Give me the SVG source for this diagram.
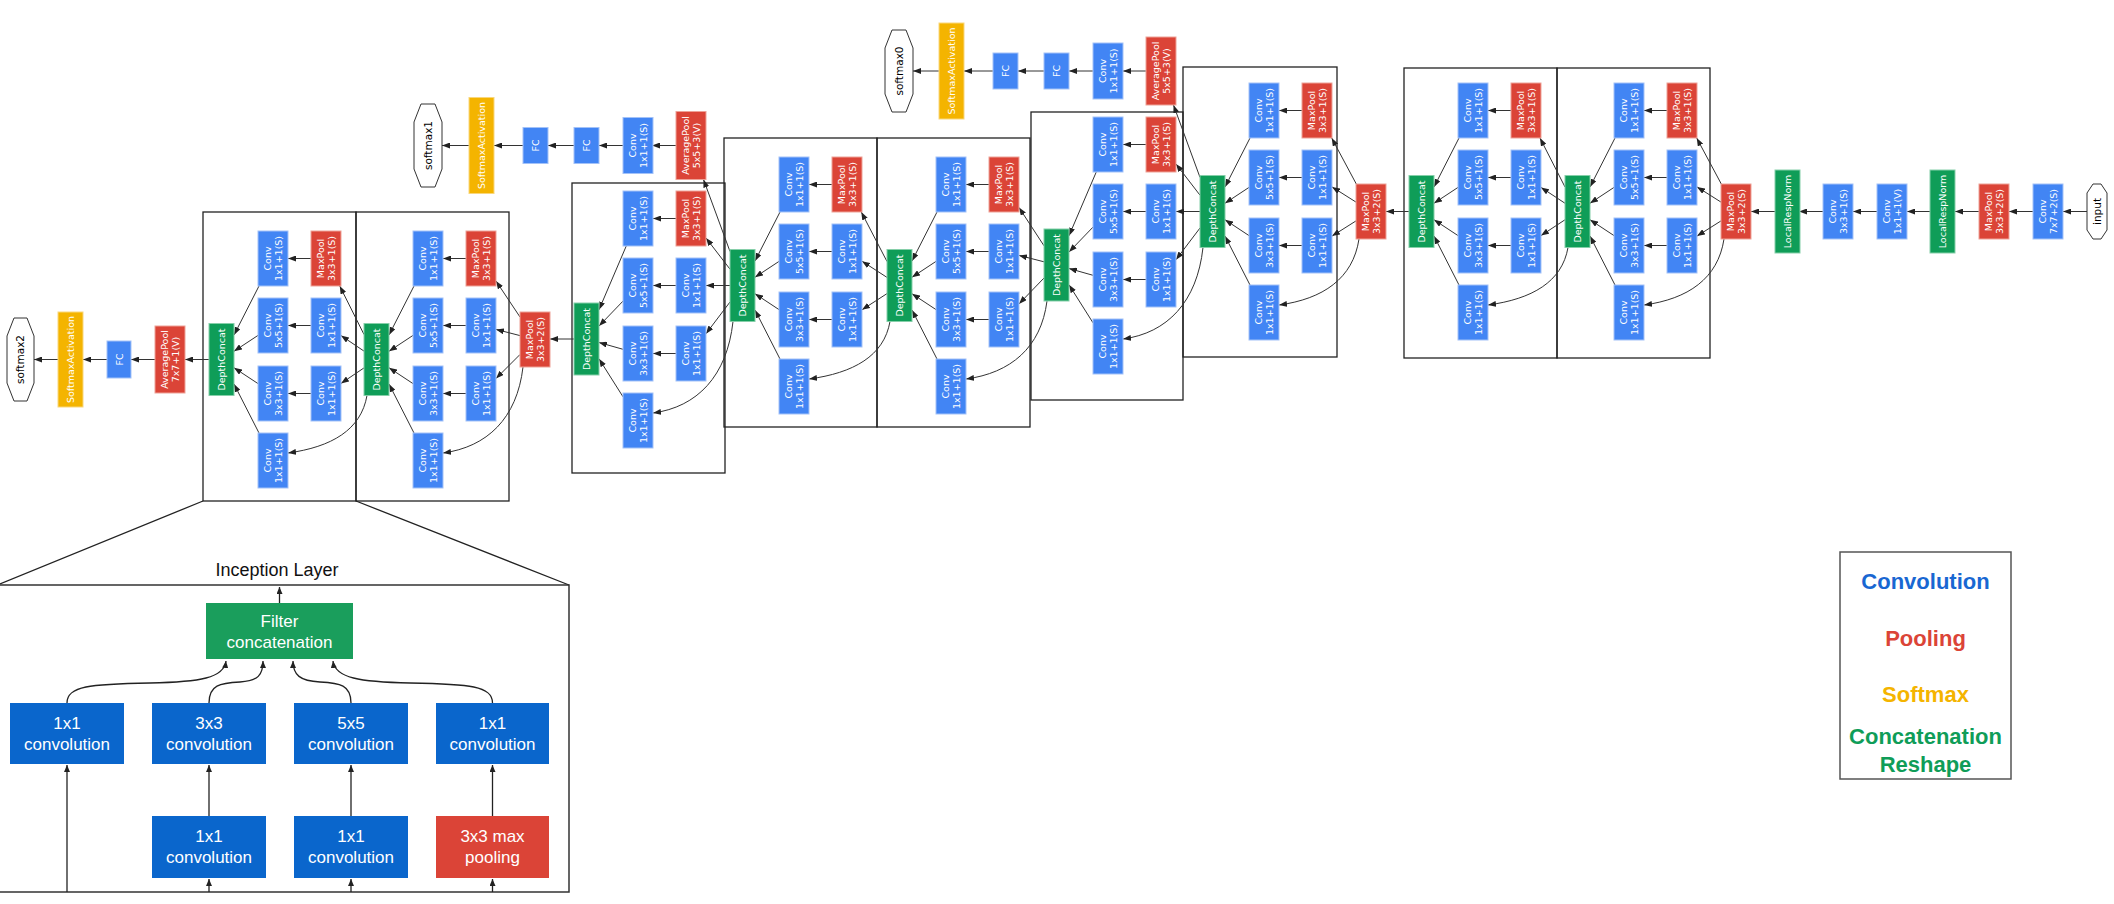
<svg xmlns="http://www.w3.org/2000/svg" width="2114" height="904" viewBox="0 0 2114 904">
<defs>
<marker id="ah" markerUnits="userSpaceOnUse" markerWidth="8" markerHeight="6" refX="8" refY="3" orient="auto"><path d="M0,0 L8,3 L0,6 z" fill="#222"/></marker>
<marker id="ah2" markerUnits="userSpaceOnUse" markerWidth="7" markerHeight="6" refX="7" refY="3" orient="auto"><path d="M0,0 L7,3 L0,6 z" fill="#222"/></marker>
<style>
.b{fill:#4285f4;stroke:#a3c2f8;stroke-width:1}
.r{fill:#db4437;stroke:#eea298;stroke-width:1}
.g{fill:#0f9d58;stroke:#86cfa9;stroke-width:1}
.y{fill:#f4b400;stroke:#f9d77c;stroke-width:1}
.t{font-family:"DejaVu Sans",sans-serif;font-size:9.5px;fill:#fff;text-anchor:middle}
.o{fill:#fff;stroke:#333;stroke-width:1}
.ot{font-family:"DejaVu Sans",sans-serif;font-size:10.5px;fill:#000;text-anchor:middle}
.e{fill:none;stroke:#333;stroke-width:1;marker-end:url(#ah)}
.ie{fill:none;stroke:#222;stroke-width:1.3;marker-end:url(#ah2)}
.box{fill:none;stroke:#222;stroke-width:1.3}
.ib{fill:#0a66cc}
.ir{fill:#db4437}
.ig{fill:#1a9e5c}
.it{font-family:"Liberation Sans",Arial,sans-serif;font-size:17px;fill:#fff;text-anchor:middle}
.lt{font-family:"Liberation Sans",Arial,sans-serif;font-size:22px;font-weight:bold;text-anchor:middle}
</style>
</defs>
<rect width="2114" height="904" fill="#fff"/>

<g id="module-boxes">
<rect class="box" x="1557" y="68" width="153" height="290"/>
<rect class="box" x="1404" y="68" width="153" height="290"/>
<rect class="box" x="1183" y="67" width="154" height="290"/>
<rect class="box" x="1031" y="112" width="152" height="288"/>
<rect class="box" x="877" y="138" width="153" height="289"/>
<rect class="box" x="724" y="138" width="153" height="289"/>
<rect class="box" x="572" y="183" width="153" height="290"/>
<rect class="box" x="356" y="212" width="153" height="289"/>
<rect class="box" x="203" y="212" width="153" height="289"/>
</g>

<g id="connectors">
<path class="e" d="M2087 211.5 H2063"/>
<path class="e" d="M2033 211.5 H2009"/>
<path class="e" d="M1979 211.5 H1955"/>
<path class="e" d="M1930 211.5 H1907"/>
<path class="e" d="M1877 211.5 H1853"/>
<path class="e" d="M1823 211.5 H1799"/>
<path class="e" d="M1775 211.5 H1751"/>
<path class="e" d="M1721.3 184 L1696.7 138"/>
<path class="e" d="M1721 202.1 L1697 186.9"/>
<path class="e" d="M1721 220.9 L1697 236.1"/>
<path class="e" d="M1724 239 C1718 278.6 1688 299 1644 305"/>
<path class="e" d="M1667 110.5 H1644"/>
<path class="e" d="M1667 177.5 H1644"/>
<path class="e" d="M1667 245.5 H1644"/>
<path class="e" d="M1615 138 L1590 187"/>
<path class="e" d="M1614 187.4 L1590 203.25"/>
<path class="e" d="M1614 235.6 L1590 219.75"/>
<path class="e" d="M1615 285 L1590 236"/>
<path class="e" d="M1565 187 L1540 138"/>
<path class="e" d="M1565 203.25 L1541 187.4"/>
<path class="e" d="M1565 219.75 L1541 235.6"/>
<path class="e" d="M1568 247.5 C1562 282 1532 299 1488 305"/>
<path class="e" d="M1511 110.5 H1488"/>
<path class="e" d="M1511 177.5 H1488"/>
<path class="e" d="M1511 245.5 H1488"/>
<path class="e" d="M1459 138 L1434 187"/>
<path class="e" d="M1458 187.4 L1434 203.25"/>
<path class="e" d="M1458 235.6 L1434 219.75"/>
<path class="e" d="M1459 285 L1434 236"/>
<path class="e" d="M1409 211.5 H1386"/>
<path class="e" d="M1356.3 184 L1331.7 138"/>
<path class="e" d="M1356 202.1 L1332 186.9"/>
<path class="e" d="M1356 220.9 L1332 236.1"/>
<path class="e" d="M1359 239 C1353 278.6 1323 299 1279 305"/>
<path class="e" d="M1302 110.5 H1279"/>
<path class="e" d="M1302 177.5 H1279"/>
<path class="e" d="M1302 245.5 H1279"/>
<path class="e" d="M1250 138 L1225 187"/>
<path class="e" d="M1249 187.4 L1225 203.25"/>
<path class="e" d="M1249 235.6 L1225 219.75"/>
<path class="e" d="M1250 285 L1225 236"/>
<path class="e" d="M1200 177.4 L1173.5 105"/>
<path class="e" d="M1146 71 H1123"/>
<path class="e" d="M1093 71 H1069"/>
<path class="e" d="M1044 71 H1018"/>
<path class="e" d="M993 71 H964"/>
<path class="e" d="M939 71 H913"/>
<path class="e" d="M1200 195.2 L1176 164"/>
<path class="e" d="M1200 211.5 H1176"/>
<path class="e" d="M1200 228 L1176 259.7"/>
<path class="e" d="M1203 247.5 C1197 302.4 1167 333 1123 339"/>
<path class="e" d="M1146 144.5 H1123"/>
<path class="e" d="M1146 211.5 H1123"/>
<path class="e" d="M1146 279.5 H1123"/>
<path class="e" d="M1096.25 172 L1069 235.75"/>
<path class="e" d="M1093 227.1 L1069 252"/>
<path class="e" d="M1093 275.3 L1069 268.5"/>
<path class="e" d="M1093 322.8 L1069 284.8"/>
<path class="e" d="M1044 245.8 L1019 207.5"/>
<path class="e" d="M1044 261.8 L1019 255.4"/>
<path class="e" d="M1044 278 L1019 303.9"/>
<path class="e" d="M1047 301 C1041 347.8 1010.5 373 966 379"/>
<path class="e" d="M989 184.5 H966"/>
<path class="e" d="M989 251.5 H966"/>
<path class="e" d="M989 319.5 H966"/>
<path class="e" d="M937 212 L912 261"/>
<path class="e" d="M936 261.4 L912 277.25"/>
<path class="e" d="M936 309.6 L912 293.75"/>
<path class="e" d="M937 359 L912 310"/>
<path class="e" d="M887 261.5 L861.3 212"/>
<path class="e" d="M887 277.4 L862 261.2"/>
<path class="e" d="M887 293.6 L862 309.8"/>
<path class="e" d="M890 321.5 C884 356 853.5 373 809 379"/>
<path class="e" d="M832 184.5 H809"/>
<path class="e" d="M832 251.5 H809"/>
<path class="e" d="M832 319.5 H809"/>
<path class="e" d="M780 212 L755 261"/>
<path class="e" d="M779 261.4 L755 277.25"/>
<path class="e" d="M779 309.6 L755 293.75"/>
<path class="e" d="M780 359 L755 310"/>
<path class="e" d="M730 251.5 L703.5 179.5"/>
<path class="e" d="M676 145.5 H652"/>
<path class="e" d="M623 145.5 H599"/>
<path class="e" d="M574 145.5 H548"/>
<path class="e" d="M523 145.5 H494"/>
<path class="e" d="M469 145.5 H442"/>
<path class="e" d="M730 269.2 L706 238"/>
<path class="e" d="M730 285.5 H706"/>
<path class="e" d="M730 302 L706 333.7"/>
<path class="e" d="M733 321.5 C727 376.4 697 407 653 413"/>
<path class="e" d="M676 218.5 H653"/>
<path class="e" d="M676 285.5 H653"/>
<path class="e" d="M676 353.5 H653"/>
<path class="e" d="M626.25 246 L599 309.75"/>
<path class="e" d="M623 301.1 L599 326"/>
<path class="e" d="M623 349.3 L599 342.5"/>
<path class="e" d="M623 396.8 L599 358.8"/>
<path class="e" d="M574 339 H550"/>
<path class="e" d="M520 317 L496 281"/>
<path class="e" d="M520 335.6 L496 329.4"/>
<path class="e" d="M520 354.5 L496 378.5"/>
<path class="e" d="M523 367 C517 418.6 487 447 443 453"/>
<path class="e" d="M466 258.5 H443"/>
<path class="e" d="M466 325.5 H443"/>
<path class="e" d="M466 393.5 H443"/>
<path class="e" d="M414 286 L389 335"/>
<path class="e" d="M413 335.4 L389 351.25"/>
<path class="e" d="M413 383.6 L389 367.75"/>
<path class="e" d="M414 433 L389 384"/>
<path class="e" d="M364 334.5 L339.75 286"/>
<path class="e" d="M364 351.1 L341 335.6"/>
<path class="e" d="M364 367.9 L341 383.4"/>
<path class="e" d="M367 395.5 C361 430 331.5 447 288 453"/>
<path class="e" d="M311 258.5 H288"/>
<path class="e" d="M311 325.5 H288"/>
<path class="e" d="M311 393.5 H288"/>
<path class="e" d="M259 286 L234 335"/>
<path class="e" d="M258 335.4 L234 351.25"/>
<path class="e" d="M258 383.6 L234 367.75"/>
<path class="e" d="M259 433 L234 384"/>
<path class="e" d="M209 359.5 H185"/>
<path class="e" d="M155 359.5 H131"/>
<path class="e" d="M107 359.5 H83"/>
<path class="e" d="M58 359.5 H34"/>
</g>

<g id="stem">
<g id="input"><polygon class="o" points="2093,184 2101,184 2107,193 2107,230 2101,239 2093,239 2087,230 2087,193"/><text class="ot" font-size="9.5" transform="translate(2097 211.5) rotate(-90)" y="3.5">input</text></g>
<g id="conv1"><rect class="b" x="2033" y="184" width="30" height="55"/><text class="t" transform="translate(2048 211.5) rotate(-90)"><tspan x="0" y="-2.5">Conv</tspan><tspan x="0" y="9">7x7+2(S)</tspan></text></g>
<g id="pool1"><rect class="r" x="1979" y="184" width="30" height="55"/><text class="t" transform="translate(1994 211.5) rotate(-90)"><tspan x="0" y="-2.5">MaxPool</tspan><tspan x="0" y="9">3x3+2(S)</tspan></text></g>
<g id="lrn1"><rect class="g" x="1930" y="170" width="25" height="83"/><text class="t" transform="translate(1942.5 211.5) rotate(-90)" y="3.5">LocalRespNorm</text></g>
<g id="conv2r"><rect class="b" x="1877" y="184" width="30" height="55"/><text class="t" transform="translate(1892 211.5) rotate(-90)"><tspan x="0" y="-2.5">Conv</tspan><tspan x="0" y="9">1x1+1(V)</tspan></text></g>
<g id="conv2"><rect class="b" x="1823" y="184" width="30" height="55"/><text class="t" transform="translate(1838 211.5) rotate(-90)"><tspan x="0" y="-2.5">Conv</tspan><tspan x="0" y="9">3x3+1(S)</tspan></text></g>
<g id="lrn2"><rect class="g" x="1775" y="170" width="25" height="83"/><text class="t" transform="translate(1787.5 211.5) rotate(-90)" y="3.5">LocalRespNorm</text></g>
<g id="pool2"><rect class="r" x="1721" y="184" width="30" height="55"/><text class="t" transform="translate(1736 211.5) rotate(-90)"><tspan x="0" y="-2.5">MaxPool</tspan><tspan x="0" y="9">3x3+2(S)</tspan></text></g>
</g>

<g id="inc3a">
<g id="i3a_dc"><rect class="g" x="1565" y="175.5" width="25" height="72"/><text class="t" transform="translate(1577.5 211.5) rotate(-90)" y="3.5">DepthConcat</text></g>
<g id="i3a_c1"><rect class="b" x="1614" y="83" width="30" height="55"/><text class="t" transform="translate(1629 110.5) rotate(-90)"><tspan x="0" y="-2.5">Conv</tspan><tspan x="0" y="9">1x1+1(S)</tspan></text></g>
<g id="i3a_c5"><rect class="b" x="1614" y="150" width="30" height="55"/><text class="t" transform="translate(1629 177.5) rotate(-90)"><tspan x="0" y="-2.5">Conv</tspan><tspan x="0" y="9">5x5+1(S)</tspan></text></g>
<g id="i3a_c3"><rect class="b" x="1614" y="218" width="30" height="55"/><text class="t" transform="translate(1629 245.5) rotate(-90)"><tspan x="0" y="-2.5">Conv</tspan><tspan x="0" y="9">3x3+1(S)</tspan></text></g>
<g id="i3a_c4"><rect class="b" x="1614" y="285" width="30" height="55"/><text class="t" transform="translate(1629 312.5) rotate(-90)"><tspan x="0" y="-2.5">Conv</tspan><tspan x="0" y="9">1x1+1(S)</tspan></text></g>
<g id="i3a_p"><rect class="r" x="1667" y="83" width="30" height="55"/><text class="t" transform="translate(1682 110.5) rotate(-90)"><tspan x="0" y="-2.5">MaxPool</tspan><tspan x="0" y="9">3x3+1(S)</tspan></text></g>
<g id="i3a_a"><rect class="b" x="1667" y="150" width="30" height="55"/><text class="t" transform="translate(1682 177.5) rotate(-90)"><tspan x="0" y="-2.5">Conv</tspan><tspan x="0" y="9">1x1+1(S)</tspan></text></g>
<g id="i3a_b"><rect class="b" x="1667" y="218" width="30" height="55"/><text class="t" transform="translate(1682 245.5) rotate(-90)"><tspan x="0" y="-2.5">Conv</tspan><tspan x="0" y="9">1x1+1(S)</tspan></text></g>
</g>

<g id="inc3b">
<g id="i3b_dc"><rect class="g" x="1409" y="175.5" width="25" height="72"/><text class="t" transform="translate(1421.5 211.5) rotate(-90)" y="3.5">DepthConcat</text></g>
<g id="i3b_c1"><rect class="b" x="1458" y="83" width="30" height="55"/><text class="t" transform="translate(1473 110.5) rotate(-90)"><tspan x="0" y="-2.5">Conv</tspan><tspan x="0" y="9">1x1+1(S)</tspan></text></g>
<g id="i3b_c5"><rect class="b" x="1458" y="150" width="30" height="55"/><text class="t" transform="translate(1473 177.5) rotate(-90)"><tspan x="0" y="-2.5">Conv</tspan><tspan x="0" y="9">5x5+1(S)</tspan></text></g>
<g id="i3b_c3"><rect class="b" x="1458" y="218" width="30" height="55"/><text class="t" transform="translate(1473 245.5) rotate(-90)"><tspan x="0" y="-2.5">Conv</tspan><tspan x="0" y="9">3x3+1(S)</tspan></text></g>
<g id="i3b_c4"><rect class="b" x="1458" y="285" width="30" height="55"/><text class="t" transform="translate(1473 312.5) rotate(-90)"><tspan x="0" y="-2.5">Conv</tspan><tspan x="0" y="9">1x1+1(S)</tspan></text></g>
<g id="i3b_p"><rect class="r" x="1511" y="83" width="30" height="55"/><text class="t" transform="translate(1526 110.5) rotate(-90)"><tspan x="0" y="-2.5">MaxPool</tspan><tspan x="0" y="9">3x3+1(S)</tspan></text></g>
<g id="i3b_a"><rect class="b" x="1511" y="150" width="30" height="55"/><text class="t" transform="translate(1526 177.5) rotate(-90)"><tspan x="0" y="-2.5">Conv</tspan><tspan x="0" y="9">1x1+1(S)</tspan></text></g>
<g id="i3b_b"><rect class="b" x="1511" y="218" width="30" height="55"/><text class="t" transform="translate(1526 245.5) rotate(-90)"><tspan x="0" y="-2.5">Conv</tspan><tspan x="0" y="9">1x1+1(S)</tspan></text></g>
</g>

<g id="pool3"><rect class="r" x="1356" y="184" width="30" height="55"/><text class="t" transform="translate(1371 211.5) rotate(-90)"><tspan x="0" y="-2.5">MaxPool</tspan><tspan x="0" y="9">3x3+2(S)</tspan></text></g>

<g id="inc4a">
<g id="i4a_dc"><rect class="g" x="1200" y="175.5" width="25" height="72"/><text class="t" transform="translate(1212.5 211.5) rotate(-90)" y="3.5">DepthConcat</text></g>
<g id="i4a_c1"><rect class="b" x="1249" y="83" width="30" height="55"/><text class="t" transform="translate(1264 110.5) rotate(-90)"><tspan x="0" y="-2.5">Conv</tspan><tspan x="0" y="9">1x1+1(S)</tspan></text></g>
<g id="i4a_c5"><rect class="b" x="1249" y="150" width="30" height="55"/><text class="t" transform="translate(1264 177.5) rotate(-90)"><tspan x="0" y="-2.5">Conv</tspan><tspan x="0" y="9">5x5+1(S)</tspan></text></g>
<g id="i4a_c3"><rect class="b" x="1249" y="218" width="30" height="55"/><text class="t" transform="translate(1264 245.5) rotate(-90)"><tspan x="0" y="-2.5">Conv</tspan><tspan x="0" y="9">3x3+1(S)</tspan></text></g>
<g id="i4a_c4"><rect class="b" x="1249" y="285" width="30" height="55"/><text class="t" transform="translate(1264 312.5) rotate(-90)"><tspan x="0" y="-2.5">Conv</tspan><tspan x="0" y="9">1x1+1(S)</tspan></text></g>
<g id="i4a_p"><rect class="r" x="1302" y="83" width="30" height="55"/><text class="t" transform="translate(1317 110.5) rotate(-90)"><tspan x="0" y="-2.5">MaxPool</tspan><tspan x="0" y="9">3x3+1(S)</tspan></text></g>
<g id="i4a_a"><rect class="b" x="1302" y="150" width="30" height="55"/><text class="t" transform="translate(1317 177.5) rotate(-90)"><tspan x="0" y="-2.5">Conv</tspan><tspan x="0" y="9">1x1+1(S)</tspan></text></g>
<g id="i4a_b"><rect class="b" x="1302" y="218" width="30" height="55"/><text class="t" transform="translate(1317 245.5) rotate(-90)"><tspan x="0" y="-2.5">Conv</tspan><tspan x="0" y="9">1x1+1(S)</tspan></text></g>
</g>

<g id="aux0">
<g id="a0_pool"><rect class="r" x="1146" y="37" width="30" height="68"/><text class="t" transform="translate(1161 71) rotate(-90)"><tspan x="0" y="-2.5">AveragePool</tspan><tspan x="0" y="9">5x5+3(V)</tspan></text></g>
<g id="a0_conv"><rect class="b" x="1093" y="43" width="30" height="56"/><text class="t" transform="translate(1108 71) rotate(-90)"><tspan x="0" y="-2.5">Conv</tspan><tspan x="0" y="9">1x1+1(S)</tspan></text></g>
<g id="a0_fc1"><rect class="b" x="1044" y="53" width="25" height="36"/><text class="t" transform="translate(1056.5 71) rotate(-90)" y="3.5">FC</text></g>
<g id="a0_fc2"><rect class="b" x="993" y="53" width="25" height="36"/><text class="t" transform="translate(1005.5 71) rotate(-90)" y="3.5">FC</text></g>
<g id="a0_sm"><rect class="y" x="939" y="23" width="25" height="96"/><text class="t" transform="translate(951.5 71) rotate(-90)" y="3.5">SoftmaxActivation</text></g>
<g id="softmax0"><polygon class="o" points="892,30 906,30 913,48 913,94 906,112 892,112 885,94 885,48"/><text class="ot" transform="translate(899 71) rotate(-90)" y="3.8">softmax0</text></g>
</g>

<g id="inc4b">
<g id="i4b_dc"><rect class="g" x="1044" y="229" width="25" height="72"/><text class="t" transform="translate(1056.5 265) rotate(-90)" y="3.5">DepthConcat</text></g>
<g id="i4b_c1"><rect class="b" x="1093" y="117" width="30" height="55"/><text class="t" transform="translate(1108 144.5) rotate(-90)"><tspan x="0" y="-2.5">Conv</tspan><tspan x="0" y="9">1x1+1(S)</tspan></text></g>
<g id="i4b_c5"><rect class="b" x="1093" y="184" width="30" height="55"/><text class="t" transform="translate(1108 211.5) rotate(-90)"><tspan x="0" y="-2.5">Conv</tspan><tspan x="0" y="9">5x5+1(S)</tspan></text></g>
<g id="i4b_c3"><rect class="b" x="1093" y="252" width="30" height="55"/><text class="t" transform="translate(1108 279.5) rotate(-90)"><tspan x="0" y="-2.5">Conv</tspan><tspan x="0" y="9">3x3+1(S)</tspan></text></g>
<g id="i4b_c4"><rect class="b" x="1093" y="319" width="30" height="55"/><text class="t" transform="translate(1108 346.5) rotate(-90)"><tspan x="0" y="-2.5">Conv</tspan><tspan x="0" y="9">1x1+1(S)</tspan></text></g>
<g id="i4b_p"><rect class="r" x="1146" y="117" width="30" height="55"/><text class="t" transform="translate(1161 144.5) rotate(-90)"><tspan x="0" y="-2.5">MaxPool</tspan><tspan x="0" y="9">3x3+1(S)</tspan></text></g>
<g id="i4b_a"><rect class="b" x="1146" y="184" width="30" height="55"/><text class="t" transform="translate(1161 211.5) rotate(-90)"><tspan x="0" y="-2.5">Conv</tspan><tspan x="0" y="9">1x1+1(S)</tspan></text></g>
<g id="i4b_b"><rect class="b" x="1146" y="252" width="30" height="55"/><text class="t" transform="translate(1161 279.5) rotate(-90)"><tspan x="0" y="-2.5">Conv</tspan><tspan x="0" y="9">1x1+1(S)</tspan></text></g>
</g>

<g id="inc4c">
<g id="i4c_dc"><rect class="g" x="887" y="249.5" width="25" height="72"/><text class="t" transform="translate(899.5 285.5) rotate(-90)" y="3.5">DepthConcat</text></g>
<g id="i4c_c1"><rect class="b" x="936" y="157" width="30" height="55"/><text class="t" transform="translate(951 184.5) rotate(-90)"><tspan x="0" y="-2.5">Conv</tspan><tspan x="0" y="9">1x1+1(S)</tspan></text></g>
<g id="i4c_c5"><rect class="b" x="936" y="224" width="30" height="55"/><text class="t" transform="translate(951 251.5) rotate(-90)"><tspan x="0" y="-2.5">Conv</tspan><tspan x="0" y="9">5x5+1(S)</tspan></text></g>
<g id="i4c_c3"><rect class="b" x="936" y="292" width="30" height="55"/><text class="t" transform="translate(951 319.5) rotate(-90)"><tspan x="0" y="-2.5">Conv</tspan><tspan x="0" y="9">3x3+1(S)</tspan></text></g>
<g id="i4c_c4"><rect class="b" x="936" y="359" width="30" height="55"/><text class="t" transform="translate(951 386.5) rotate(-90)"><tspan x="0" y="-2.5">Conv</tspan><tspan x="0" y="9">1x1+1(S)</tspan></text></g>
<g id="i4c_p"><rect class="r" x="989" y="157" width="30" height="55"/><text class="t" transform="translate(1004 184.5) rotate(-90)"><tspan x="0" y="-2.5">MaxPool</tspan><tspan x="0" y="9">3x3+1(S)</tspan></text></g>
<g id="i4c_a"><rect class="b" x="989" y="224" width="30" height="55"/><text class="t" transform="translate(1004 251.5) rotate(-90)"><tspan x="0" y="-2.5">Conv</tspan><tspan x="0" y="9">1x1+1(S)</tspan></text></g>
<g id="i4c_b"><rect class="b" x="989" y="292" width="30" height="55"/><text class="t" transform="translate(1004 319.5) rotate(-90)"><tspan x="0" y="-2.5">Conv</tspan><tspan x="0" y="9">1x1+1(S)</tspan></text></g>
</g>

<g id="inc4d">
<g id="i4d_dc"><rect class="g" x="730" y="249.5" width="25" height="72"/><text class="t" transform="translate(742.5 285.5) rotate(-90)" y="3.5">DepthConcat</text></g>
<g id="i4d_c1"><rect class="b" x="779" y="157" width="30" height="55"/><text class="t" transform="translate(794 184.5) rotate(-90)"><tspan x="0" y="-2.5">Conv</tspan><tspan x="0" y="9">1x1+1(S)</tspan></text></g>
<g id="i4d_c5"><rect class="b" x="779" y="224" width="30" height="55"/><text class="t" transform="translate(794 251.5) rotate(-90)"><tspan x="0" y="-2.5">Conv</tspan><tspan x="0" y="9">5x5+1(S)</tspan></text></g>
<g id="i4d_c3"><rect class="b" x="779" y="292" width="30" height="55"/><text class="t" transform="translate(794 319.5) rotate(-90)"><tspan x="0" y="-2.5">Conv</tspan><tspan x="0" y="9">3x3+1(S)</tspan></text></g>
<g id="i4d_c4"><rect class="b" x="779" y="359" width="30" height="55"/><text class="t" transform="translate(794 386.5) rotate(-90)"><tspan x="0" y="-2.5">Conv</tspan><tspan x="0" y="9">1x1+1(S)</tspan></text></g>
<g id="i4d_p"><rect class="r" x="832" y="157" width="30" height="55"/><text class="t" transform="translate(847 184.5) rotate(-90)"><tspan x="0" y="-2.5">MaxPool</tspan><tspan x="0" y="9">3x3+1(S)</tspan></text></g>
<g id="i4d_a"><rect class="b" x="832" y="224" width="30" height="55"/><text class="t" transform="translate(847 251.5) rotate(-90)"><tspan x="0" y="-2.5">Conv</tspan><tspan x="0" y="9">1x1+1(S)</tspan></text></g>
<g id="i4d_b"><rect class="b" x="832" y="292" width="30" height="55"/><text class="t" transform="translate(847 319.5) rotate(-90)"><tspan x="0" y="-2.5">Conv</tspan><tspan x="0" y="9">1x1+1(S)</tspan></text></g>
</g>

<g id="aux1">
<g id="a1_pool"><rect class="r" x="676" y="111.5" width="30" height="68"/><text class="t" transform="translate(691 145.5) rotate(-90)"><tspan x="0" y="-2.5">AveragePool</tspan><tspan x="0" y="9">5x5+3(V)</tspan></text></g>
<g id="a1_conv"><rect class="b" x="623" y="117.5" width="30" height="56"/><text class="t" transform="translate(638 145.5) rotate(-90)"><tspan x="0" y="-2.5">Conv</tspan><tspan x="0" y="9">1x1+1(S)</tspan></text></g>
<g id="a1_fc1"><rect class="b" x="574" y="127.5" width="25" height="36"/><text class="t" transform="translate(586.5 145.5) rotate(-90)" y="3.5">FC</text></g>
<g id="a1_fc2"><rect class="b" x="523" y="127.5" width="25" height="36"/><text class="t" transform="translate(535.5 145.5) rotate(-90)" y="3.5">FC</text></g>
<g id="a1_sm"><rect class="y" x="469" y="97.5" width="25" height="96"/><text class="t" transform="translate(481.5 145.5) rotate(-90)" y="3.5">SoftmaxActivation</text></g>
<g id="softmax1"><polygon class="o" points="421,104 435,104 442,122 442,169 435,187 421,187 414,169 414,122"/><text class="ot" transform="translate(428 145.5) rotate(-90)" y="3.8">softmax1</text></g>
</g>

<g id="inc4e">
<g id="i4e_dc"><rect class="g" x="574" y="303" width="25" height="72"/><text class="t" transform="translate(586.5 339) rotate(-90)" y="3.5">DepthConcat</text></g>
<g id="i4e_c1"><rect class="b" x="623" y="191" width="30" height="55"/><text class="t" transform="translate(638 218.5) rotate(-90)"><tspan x="0" y="-2.5">Conv</tspan><tspan x="0" y="9">1x1+1(S)</tspan></text></g>
<g id="i4e_c5"><rect class="b" x="623" y="258" width="30" height="55"/><text class="t" transform="translate(638 285.5) rotate(-90)"><tspan x="0" y="-2.5">Conv</tspan><tspan x="0" y="9">5x5+1(S)</tspan></text></g>
<g id="i4e_c3"><rect class="b" x="623" y="326" width="30" height="55"/><text class="t" transform="translate(638 353.5) rotate(-90)"><tspan x="0" y="-2.5">Conv</tspan><tspan x="0" y="9">3x3+1(S)</tspan></text></g>
<g id="i4e_c4"><rect class="b" x="623" y="393" width="30" height="55"/><text class="t" transform="translate(638 420.5) rotate(-90)"><tspan x="0" y="-2.5">Conv</tspan><tspan x="0" y="9">1x1+1(S)</tspan></text></g>
<g id="i4e_p"><rect class="r" x="676" y="191" width="30" height="55"/><text class="t" transform="translate(691 218.5) rotate(-90)"><tspan x="0" y="-2.5">MaxPool</tspan><tspan x="0" y="9">3x3+1(S)</tspan></text></g>
<g id="i4e_a"><rect class="b" x="676" y="258" width="30" height="55"/><text class="t" transform="translate(691 285.5) rotate(-90)"><tspan x="0" y="-2.5">Conv</tspan><tspan x="0" y="9">1x1+1(S)</tspan></text></g>
<g id="i4e_b"><rect class="b" x="676" y="326" width="30" height="55"/><text class="t" transform="translate(691 353.5) rotate(-90)"><tspan x="0" y="-2.5">Conv</tspan><tspan x="0" y="9">1x1+1(S)</tspan></text></g>
</g>

<g id="pool4"><rect class="r" x="520" y="312" width="30" height="55"/><text class="t" transform="translate(535 339.5) rotate(-90)"><tspan x="0" y="-2.5">MaxPool</tspan><tspan x="0" y="9">3x3+2(S)</tspan></text></g>

<g id="inc5a">
<g id="i5a_dc"><rect class="g" x="364" y="323.5" width="25" height="72"/><text class="t" transform="translate(376.5 359.5) rotate(-90)" y="3.5">DepthConcat</text></g>
<g id="i5a_c1"><rect class="b" x="413" y="231" width="30" height="55"/><text class="t" transform="translate(428 258.5) rotate(-90)"><tspan x="0" y="-2.5">Conv</tspan><tspan x="0" y="9">1x1+1(S)</tspan></text></g>
<g id="i5a_c5"><rect class="b" x="413" y="298" width="30" height="55"/><text class="t" transform="translate(428 325.5) rotate(-90)"><tspan x="0" y="-2.5">Conv</tspan><tspan x="0" y="9">5x5+1(S)</tspan></text></g>
<g id="i5a_c3"><rect class="b" x="413" y="366" width="30" height="55"/><text class="t" transform="translate(428 393.5) rotate(-90)"><tspan x="0" y="-2.5">Conv</tspan><tspan x="0" y="9">3x3+1(S)</tspan></text></g>
<g id="i5a_c4"><rect class="b" x="413" y="433" width="30" height="55"/><text class="t" transform="translate(428 460.5) rotate(-90)"><tspan x="0" y="-2.5">Conv</tspan><tspan x="0" y="9">1x1+1(S)</tspan></text></g>
<g id="i5a_p"><rect class="r" x="466" y="231" width="30" height="55"/><text class="t" transform="translate(481 258.5) rotate(-90)"><tspan x="0" y="-2.5">MaxPool</tspan><tspan x="0" y="9">3x3+1(S)</tspan></text></g>
<g id="i5a_a"><rect class="b" x="466" y="298" width="30" height="55"/><text class="t" transform="translate(481 325.5) rotate(-90)"><tspan x="0" y="-2.5">Conv</tspan><tspan x="0" y="9">1x1+1(S)</tspan></text></g>
<g id="i5a_b"><rect class="b" x="466" y="366" width="30" height="55"/><text class="t" transform="translate(481 393.5) rotate(-90)"><tspan x="0" y="-2.5">Conv</tspan><tspan x="0" y="9">1x1+1(S)</tspan></text></g>
</g>

<g id="inc5b">
<g id="i5b_dc"><rect class="g" x="209" y="323.5" width="25" height="72"/><text class="t" transform="translate(221.5 359.5) rotate(-90)" y="3.5">DepthConcat</text></g>
<g id="i5b_c1"><rect class="b" x="258" y="231" width="30" height="55"/><text class="t" transform="translate(273 258.5) rotate(-90)"><tspan x="0" y="-2.5">Conv</tspan><tspan x="0" y="9">1x1+1(S)</tspan></text></g>
<g id="i5b_c5"><rect class="b" x="258" y="298" width="30" height="55"/><text class="t" transform="translate(273 325.5) rotate(-90)"><tspan x="0" y="-2.5">Conv</tspan><tspan x="0" y="9">5x5+1(S)</tspan></text></g>
<g id="i5b_c3"><rect class="b" x="258" y="366" width="30" height="55"/><text class="t" transform="translate(273 393.5) rotate(-90)"><tspan x="0" y="-2.5">Conv</tspan><tspan x="0" y="9">3x3+1(S)</tspan></text></g>
<g id="i5b_c4"><rect class="b" x="258" y="433" width="30" height="55"/><text class="t" transform="translate(273 460.5) rotate(-90)"><tspan x="0" y="-2.5">Conv</tspan><tspan x="0" y="9">1x1+1(S)</tspan></text></g>
<g id="i5b_p"><rect class="r" x="311" y="231" width="30" height="55"/><text class="t" transform="translate(326 258.5) rotate(-90)"><tspan x="0" y="-2.5">MaxPool</tspan><tspan x="0" y="9">3x3+1(S)</tspan></text></g>
<g id="i5b_a"><rect class="b" x="311" y="298" width="30" height="55"/><text class="t" transform="translate(326 325.5) rotate(-90)"><tspan x="0" y="-2.5">Conv</tspan><tspan x="0" y="9">1x1+1(S)</tspan></text></g>
<g id="i5b_b"><rect class="b" x="311" y="366" width="30" height="55"/><text class="t" transform="translate(326 393.5) rotate(-90)"><tspan x="0" y="-2.5">Conv</tspan><tspan x="0" y="9">1x1+1(S)</tspan></text></g>
</g>

<g id="head">
<g id="h_pool"><rect class="r" x="155" y="326" width="30" height="67"/><text class="t" transform="translate(170 359.5) rotate(-90)"><tspan x="0" y="-2.5">AveragePool</tspan><tspan x="0" y="9">7x7+1(V)</tspan></text></g>
<g id="h_fc"><rect class="b" x="107" y="341" width="24" height="37"/><text class="t" transform="translate(119 359.5) rotate(-90)" y="3.5">FC</text></g>
<g id="h_sm"><rect class="y" x="58" y="312" width="25" height="95"/><text class="t" transform="translate(70.5 359.5) rotate(-90)" y="3.5">SoftmaxActivation</text></g>
<g id="softmax2"><polygon class="o" points="14,318 27,318 34,336 34,383 27,401 14,401 7,383 7,336"/><text class="ot" transform="translate(20.5 359.5) rotate(-90)" y="3.8">softmax2</text></g>
</g>

<g id="inset">
<path d="M203 501 L0 584 M356 501 L569 585" fill="none" stroke="#222" stroke-width="1.3"/>
<path d="M0 585 H569 V892 H0" fill="none" stroke="#333" stroke-width="1.5"/>
<text x="277" y="576" font-family="'Liberation Sans',Arial,sans-serif" font-size="18" fill="#111" text-anchor="middle">Inception Layer</text>
<g id="inset-connectors">
<path class="ie" d="M279.5 603 V587"/>
<path class="ie" d="M67 703 C67 686 90 684 150 683 C200 682 224 678 226 661"/>
<path class="ie" d="M209 703 C209 685 220 683 240 682 C258 681 263 675 263 661"/>
<path class="ie" d="M351 703 C351 685 340 683 320 682 C300 681 293 675 293 661"/>
<path class="ie" d="M492.5 703 C492.5 686 470 684 410 683 C360 682 335 678 333 661"/>
<path class="ie" d="M67 892 V765"/>
<path class="ie" d="M209 892 V879"/>
<path class="ie" d="M209 816 V765"/>
<path class="ie" d="M351 892 V879"/>
<path class="ie" d="M351 816 V765"/>
<path class="ie" d="M492.5 892 V879"/>
<path class="ie" d="M492.5 816 V765"/>
</g>
<g id="in_concat"><rect class="ig" x="206" y="603" width="147" height="56"/><text class="it"><tspan x="279.5" y="627">Filter</tspan><tspan x="279.5" y="648">concatenation</tspan></text></g>
<g id="in_c1"><rect class="ib" x="10" y="703" width="114" height="61"/><text class="it"><tspan x="67" y="729">1x1</tspan><tspan x="67" y="750">convolution</tspan></text></g>
<g id="in_c3"><rect class="ib" x="152" y="703" width="114" height="61"/><text class="it"><tspan x="209" y="729">3x3</tspan><tspan x="209" y="750">convolution</tspan></text></g>
<g id="in_c5"><rect class="ib" x="294" y="703" width="114" height="61"/><text class="it"><tspan x="351" y="729">5x5</tspan><tspan x="351" y="750">convolution</tspan></text></g>
<g id="in_cp"><rect class="ib" x="436" y="703" width="113" height="61"/><text class="it"><tspan x="492.5" y="729">1x1</tspan><tspan x="492.5" y="750">convolution</tspan></text></g>
<g id="in_r3"><rect class="ib" x="152" y="816" width="114" height="62"/><text class="it"><tspan x="209" y="842">1x1</tspan><tspan x="209" y="863">convolution</tspan></text></g>
<g id="in_r5"><rect class="ib" x="294" y="816" width="114" height="62"/><text class="it"><tspan x="351" y="842">1x1</tspan><tspan x="351" y="863">convolution</tspan></text></g>
<g id="in_pool"><rect class="ir" x="436" y="816" width="113" height="62"/><text class="it"><tspan x="492.5" y="842">3x3 max</tspan><tspan x="492.5" y="863">pooling</tspan></text></g>
</g>

<g id="legend">
<rect x="1840" y="552" width="171" height="227" fill="#fff" stroke="#555" stroke-width="1.5"/>
<text class="lt" x="1925.5" y="589" fill="#1967d2">Convolution</text>
<text class="lt" x="1925.5" y="646" fill="#db4437">Pooling</text>
<text class="lt" x="1925.5" y="702" fill="#f4b400">Softmax</text>
<text class="lt" x="1925.5" y="744" fill="#0f9d58">Concatenation</text>
<text class="lt" x="1925.5" y="772" fill="#0f9d58">Reshape</text>
</g>
</svg>
